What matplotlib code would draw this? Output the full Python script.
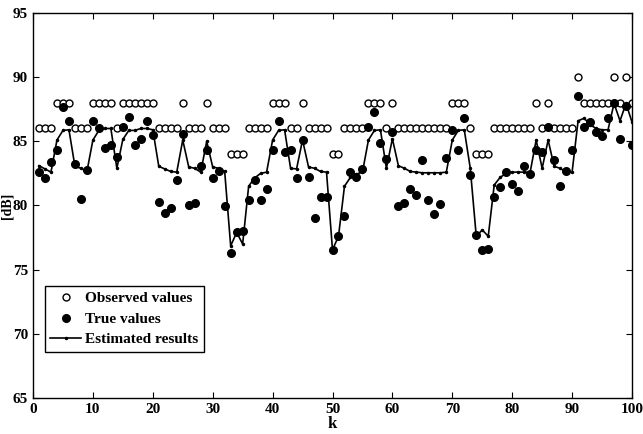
import numpy as np
import matplotlib.pyplot as plt

plt.rcParams['font.family'] = 'Liberation Serif'
plt.rcParams['font.weight'] = 'bold'

k = np.arange(1, 101)

observed = [86, 86, 86, 88, 88, 88, 86, 86, 86, 88,
            88, 88, 88, 86, 88, 88, 88, 88, 88, 88,
            86, 86, 86, 86, 88, 86, 86, 86, 88, 86,
            86, 86, 84, 84, 84, 86, 86, 86, 86, 88,
            88, 88, 86, 86, 88, 86, 86, 86, 86, 84,
            84, 86, 86, 86, 86, 88, 88, 88, 86, 88,
            86, 86, 86, 86, 86, 86, 86, 86, 86, 88,
            88, 88, 86, 84, 84, 84, 86, 86, 86, 86,
            86, 86, 86, 88, 86, 88, 86, 86, 86, 86,
            90, 88, 88, 88, 88, 88, 90, 88, 90, 88]

true_vals = [82.6, 82.15, 83.4, 84.35, 87.7, 86.55, 83.25, 80.5, 82.8, 86.55,
             86.0, 84.5, 84.75, 83.8, 86.1, 86.9, 84.75, 85.2, 86.55, 85.5,
             80.3, 79.45, 79.8, 82.0, 85.6, 80.05, 80.2, 83.1, 84.35, 82.15,
             82.7, 79.95, 76.3, 77.9, 78.05, 80.45, 82.0, 80.45, 81.25, 84.35,
             86.6, 84.2, 84.3, 82.15, 85.1, 82.2, 79.0, 80.7, 80.7, 76.55,
             77.6, 79.2, 82.6, 82.2, 82.85, 86.1, 87.3, 84.9, 83.6, 85.7,
             79.95, 80.2, 81.3, 80.8, 83.55, 80.45, 79.35, 80.1, 83.7, 85.85,
             84.35, 86.8, 82.4, 77.7, 76.55, 76.6, 80.65, 81.45, 82.6, 81.7,
             81.1, 83.1, 82.45, 84.3, 84.15, 86.1, 83.55, 81.5, 82.7, 84.35,
             88.55, 86.1, 86.5, 85.7, 85.45, 86.85, 88.0, 85.15, 87.75, 84.75]

estimated = [83.1, 82.85, 82.6, 85.1, 85.85, 85.9, 83.05, 82.9, 82.65, 85.1,
             85.85, 86.0, 86.0, 82.9, 85.15, 85.85, 85.85, 86.0, 86.0, 85.9,
             83.05, 82.85, 82.65, 82.6, 85.1, 83.0, 82.9, 82.6, 85.0, 83.0,
             82.9, 82.65, 76.85, 77.9, 77.0, 81.5, 82.15, 82.5, 82.6, 85.1,
             85.85, 85.9, 82.9, 82.85, 85.1, 83.0, 82.9, 82.65, 82.6, 76.55,
             77.6, 81.5, 82.2, 82.45, 82.6, 85.1, 85.85, 85.9, 82.9, 85.2,
             83.1, 82.9, 82.65, 82.6, 82.55, 82.55, 82.55, 82.55, 82.6, 85.1,
             85.85, 85.9, 82.9, 77.6, 78.1, 77.6, 81.6, 82.2, 82.5, 82.6,
             82.6, 82.6, 82.6, 85.1, 82.9, 85.1, 83.05, 82.9, 82.6, 82.6,
             86.6, 86.8, 86.3, 86.0, 85.9, 85.9, 87.95, 86.6, 87.95, 86.5]

fig = plt.figure(figsize=(6.43, 4.34), dpi=100)
ax = fig.add_axes([33 / 643, 36 / 434, 599 / 643, 385 / 434])

ax.plot(k, observed, 'o', mfc='white', mec='black', mew=1.0, ms=5,
        linestyle='none', label='Observed values')
ax.plot(k, true_vals, 'o', color='black', ms=5.5,
        linestyle='none', label='True values')
ax.plot(k, estimated, '-', color='black', lw=1.2, marker='.', ms=3,
        label='Estimated results')

ax.set_xlim(0, 100)
ax.set_ylim(65, 95)
ax.set_xticks(np.arange(0, 101, 10))
ax.set_yticks(np.arange(65, 96, 5))
ax.tick_params(direction='in', top=True, right=True, labelsize=11, length=4)
for lab in ax.get_xticklabels() + ax.get_yticklabels():
    lab.set_fontweight('bold')
for s in ax.spines.values():
    s.set_linewidth(1.0)

ax.set_xlabel('k', fontsize=12, fontweight='bold', labelpad=0)
ax.set_ylabel('[dB]', fontsize=10, fontweight='bold', va='center')
ax.yaxis.set_label_coords(-0.044, 0.5)

leg = ax.legend(loc='lower left', bbox_to_anchor=(0.02, 0.12), numpoints=1,
                fancybox=False, edgecolor='black', framealpha=1,
                prop={'size': 11, 'weight': 'bold'}, handlelength=2,
                borderpad=0.35, labelspacing=0.45, handletextpad=0.3,
                borderaxespad=0)
leg.get_frame().set_linewidth(1.0)

plt.savefig('out.png', dpi=100)
